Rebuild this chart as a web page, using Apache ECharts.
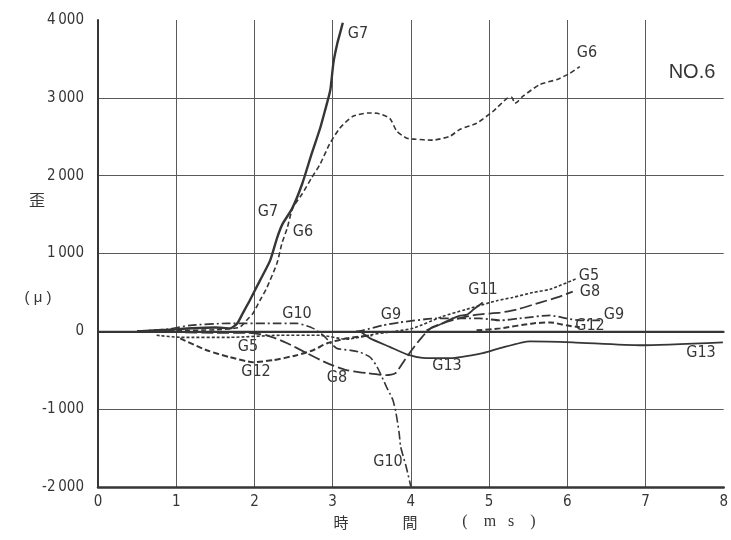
<!DOCTYPE html>
<html><head><meta charset="utf-8">
<script src="https://cdn.jsdelivr.net/npm/echarts@6/dist/echarts.min.js"></script>
<style>html,body{margin:0;padding:0;background:#fff}#c{width:731px;height:540px}</style>
</head><body><div id="c"></div>
<script>
// ---- data (time ms, strain μ) ----
const xTicks = [0,1,2,3,4,5,6,7,8];
const yTickValues = [-2000,-1000,0,1000,2000,3000,4000];
const yTickLabels = ['-2\u2009000','-1\u2009000','0','1\u2009000','2\u2009000','3\u2009000','4\u2009000'];

const G7 = [[0.5,0],[0.9,20],[1.2,40],[1.5,50],[1.69,38],[1.78,102],[1.85,230],[1.94,396],[2.07,652],[2.2,908],[2.29,1202],[2.36,1381],[2.48,1573],[2.61,1893],[2.73,2277],[2.84,2609],[2.9,2827],[2.97,3100],[3.01,3450],[3.06,3700],[3.1,3850],[3.13,3965]];
const G6 = [[0.5,0],[1.0,10],[1.5,20],[1.81,51],[1.9,141],[1.98,230],[2.07,396],[2.16,563],[2.29,880],[2.35,1125],[2.42,1330],[2.49,1586],[2.61,1765],[2.73,1970],[2.84,2149],[2.96,2404],[3.09,2609],[3.26,2763],[3.45,2805],[3.57,2801],[3.73,2737],[3.82,2571],[3.95,2481],[4.05,2469],[4.28,2456],[4.5,2507],[4.63,2596],[4.84,2673],[5.05,2827],[5.23,2993],[5.29,3006],[5.33,2929],[5.37,2955],[5.43,3018],[5.65,3172],[5.87,3236],[6.03,3313],[6.16,3402]];
const G10 = [[0.5,0],[0.9,30],[1.18,77],[1.65,102],[2.33,102],[2.54,102],[2.75,38],[2.88,-51],[3.05,-217],[3.22,-243],[3.35,-269],[3.48,-333],[3.57,-460],[3.69,-716],[3.77,-883],[3.81,-1049],[3.85,-1305],[3.87,-1484],[3.94,-1740],[4.0,-1995]];
const G8 = [[0.5,0],[1.0,-10],[1.5,-20],[1.9,-20],[2.16,-51],[2.42,-153],[2.67,-281],[2.93,-409],[3.18,-499],[3.44,-537],[3.69,-563],[3.8,-540],[3.92,-371],[4.01,-243],[4.14,-77],[4.27,51],[4.59,160],[4.85,215],[5.14,240],[5.35,280],[5.65,370],[5.87,435],[6.07,510]];
const G5 = [[0.75,-51],[1.05,-77],[1.69,-77],[2.33,-51],[2.84,-51],[3.18,-102],[3.51,-40],[3.8,0],[4.03,40],[4.4,190],[4.7,280],[5.11,396],[5.3,435],[5.56,499],[5.78,540],[6.12,678]];
const G12 = [[1.05,-90],[1.39,-243],[1.69,-333],[1.98,-396],[2.24,-371],[2.54,-307],[2.75,-243],[2.93,-153],[3.18,-90],[3.51,-51],[4.3,'-'],[4.84,13],[5.14,38],[5.56,102],[5.78,115],[5.99,77],[6.16,51]];
const G9 = [[3.3,0],[3.39,13],[3.64,77],[3.86,115],[4.33,166],[4.88,166],[5.14,141],[5.39,166],[5.78,205],[5.99,166],[6.16,141],[6.42,141]];
const G11 = [[4.2,13],[4.4,100],[4.5,150],[4.62,200],[4.72,215],[4.8,280],[4.92,371]];
const G13 = [[3.35,0],[3.48,-90],[3.73,-200],[3.96,-300],[4.15,-340],[4.5,-345],[4.92,-281],[5.14,-217],[5.52,-128],[6.07,-141],[6.93,-179],[7.99,-141]];

const INK = '#363636';
const FONT = "'Liberation Sans Narrow','DejaVu Sans Condensed','Liberation Sans',sans-serif";

function ser(name, data, type, width) {
  return {name, type:'line', data, showSymbol:false, symbol:'none', smooth:0.2, connectNulls:false,
    lineStyle:{color:INK, width, type}, silent:true, animation:false};
}

const chart = echarts.init(document.getElementById('c'), null, {renderer:'canvas'});
// layout of annotations (pixels)
const graphicTexts = [
  {type:'text', x:37, y:200, style:{text:'歪', fill:INK, font:"16px 'Noto Sans CJK JP'", align:'center', verticalAlign:'middle'}},
  {type:'text', x:38, y:298, style:{text:'( μ )', fill:INK, font:"15px 'Liberation Sans'", align:'center', verticalAlign:'middle'}},
  {type:'text', x:341, y:522, style:{text:'時', fill:INK, font:"15px 'Noto Sans CJK JP'", align:'center', verticalAlign:'middle'}},
  {type:'text', x:410, y:522, style:{text:'間', fill:INK, font:"15px 'Noto Sans CJK JP'", align:'center', verticalAlign:'middle'}},
  {type:'text', x:499, y:522, style:{text:'(    m   s    )', fill:INK, font:"16px 'Liberation Serif'", align:'center', verticalAlign:'middle'}},
  {type:'text', x:692, y:72, style:{text:'NO.6', fill:INK, font:"20px 'Liberation Sans'", align:'center', verticalAlign:'middle'}},
];
const seriesLabels = [
  ['G7',358,34],['G6',587,53],['G7',268,212],['G6',303,232],['G10',297,314],['G9',391,315],
  ['G11',483,290],['G5',589,276],['G8',590,292],['G9',614,315],['G12',590,326],['G13',701,353],
  ['G13',447,366],['G5',248,347],['G12',256,372],['G8',337,378],['G10',388,462]
];
seriesLabels.forEach(([t,x,y]) => graphicTexts.push({type:'text', x, y, style:{text:t, fill:INK, font:"16px "+FONT, align:'center', verticalAlign:'middle'}}));

chart.setOption({
  backgroundColor:'#fff',
  animation:false,
  grid:{left:98, right:7, top:20, bottom:53},
  xAxis:[{
    type:'value', min:0, max:8, interval:1,
    axisLine:{show:true, onZero:false, lineStyle:{color:INK, width:2.5}},
    axisTick:{show:false},
    axisLabel:{color:INK, fontSize:15, fontFamily:FONT, margin:8, formatter:v => xTicks.includes(v) ? String(v) : ''},
    splitLine:{show:true, showMinLine:false, showMaxLine:false, lineStyle:{color:'#5a5a5a', width:1}}
  },{
    type:'value', position:'top', min:0, max:8, interval:1,
    axisLine:{show:true, lineStyle:{color:INK, width:2}},
    axisTick:{show:false}, axisLabel:{show:false}, splitLine:{show:false}
  }],
  yAxis:{
    type:'value', min:-2000, max:4000, interval:1000,
    axisLine:{show:true, onZero:false, lineStyle:{color:INK, width:2}},
    axisTick:{show:false},
    axisLabel:{color:INK, fontSize:15, fontFamily:FONT, margin:14,
      formatter:v => { const i = yTickValues.indexOf(v); return i >= 0 ? yTickLabels[i] : ''; }},
    splitLine:{show:true, showMinLine:false, showMaxLine:false, lineStyle:{color:'#5a5a5a', width:1}}
  },
  series:[
    ser('G7', G7, 'solid', 2.4),
    ser('G6', G6, [5,3], 1.6),
    ser('G10', G10, [9,3,2,3], 1.6),
    ser('G8', G8, [12,4], 1.8),
    ser('G5', G5, [3,2], 1.6),
    ser('G12', G12, [6,3], 2),
    ser('G9', G9, [9,3,2,3], 1.8),
    ser('G11', G11, 'solid', 1.8),
    ser('G13', G13, 'solid', 1.8),
    {type:'line', data:[[0,0],[8,0]], showSymbol:false, symbol:'none', silent:true, lineStyle:{color:INK, width:1.3}}
  ],
  graphic:graphicTexts
});
</script></body></html>
